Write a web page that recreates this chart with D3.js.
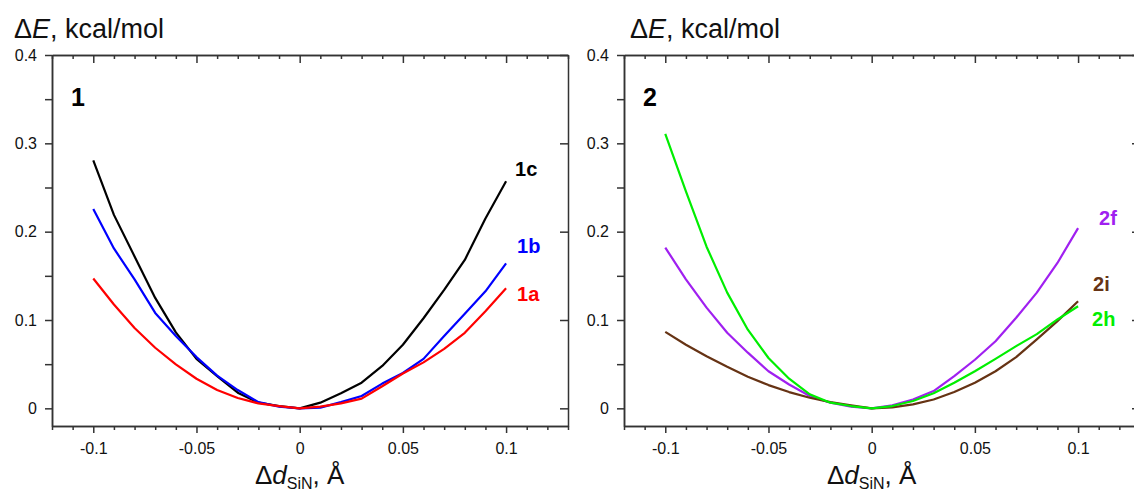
<!DOCTYPE html>
<html>
<head>
<meta charset="utf-8">
<script src="https://cdnjs.cloudflare.com/ajax/libs/d3/7.8.5/d3.min.js"></script>
<style>
  body { margin: 0; background: #fff; }
  svg { display: block; font-family: "Liberation Sans", Arial, sans-serif; }
  .axis path, .axis line { stroke: #333; stroke-width: 1.5; }
  .axis text { font-size: 16px; fill: #111; }
</style>
</head>
<body>
<div id="chart"></div>
<script>
(function () {

  // bond length change, same grid for every curve
  const dSiN = [-0.1, -0.09, -0.08, -0.07, -0.06, -0.05, -0.04, -0.03, -0.02, -0.01, 0,
    0.01, 0.02, 0.03, 0.04, 0.05, 0.06, 0.07, 0.08, 0.09, 0.1]

  // panel 1
  const e1a = [0.147, 0.1175, 0.091, 0.0686, 0.0497, 0.0335, 0.0207, 0.0117, 0.0056, 0.0026, 0,
    0.002, 0.0056, 0.011, 0.025, 0.0395, 0.052, 0.0674, 0.0855, 0.11, 0.136]
  const e1b = [0.2256, 0.181, 0.146, 0.108, 0.082, 0.058, 0.037, 0.0207, 0.007, 0.002, 0,
    0.0008, 0.007, 0.014, 0.028, 0.040, 0.056, 0.082, 0.107, 0.1325, 0.164]
  const e1c = [0.2806, 0.219, 0.172, 0.125, 0.086, 0.056, 0.0365, 0.0177, 0.0064, 0.0026, 0,
    0.0064, 0.017, 0.029, 0.048, 0.072, 0.102, 0.134, 0.168, 0.215, 0.257]

  // panel 2
  const e2f = [0.182, 0.146, 0.114, 0.0855, 0.063, 0.042, 0.027, 0.014, 0.0064, 0.002, 0,
    0.0034, 0.010, 0.0196, 0.0365, 0.055, 0.076, 0.1025, 0.131, 0.1646, 0.204]
  const e2h = [0.3107, 0.2456, 0.183, 0.131, 0.089, 0.057, 0.0335, 0.0158, 0.0064, 0.0026, 0,
    0.0026, 0.0083, 0.017, 0.029, 0.042, 0.056, 0.0704, 0.084, 0.1006, 0.1156]
  const e2i = [0.0866, 0.072, 0.059, 0.047, 0.0358, 0.0263, 0.0184, 0.012, 0.007, 0.0034, 0,
    0.001, 0.0045, 0.010, 0.0184, 0.029, 0.042, 0.058, 0.078, 0.0987, 0.1213]

  const xTicks = [-0.1, -0.05, 0, 0.05, 0.1]
  const xTickLabels = ['-0.1', '-0.05', '0', '0.05', '0.1']
  const yTicks = [0, 0.1, 0.2, 0.3, 0.4]
  const yTickLabels = ['0', '0.1', '0.2', '0.3', '0.4']

  const width = 1134
  const height = 495

  const svg = d3.select("#chart").append("svg")
      .attr("width", width)
      .attr("height", height)

  // panel boxes in pixels
  const top = 55, bottom = 426, plotW = 516

  const yScale = d3.scaleLinear()
    .domain([-0.02, 0.4])
    .range([bottom, top])

  const xMinor = d3.range(-12, 14).map(i => i / 100).filter(v => !xTicks.some(t => Math.abs(t - v) < 1e-9))
  const yMinor = [0.05, 0.15, 0.25, 0.35]

  function panel (left, name, titleX, series) {
    const xScale = d3.scaleLinear()
      .domain([-0.12, 0.13])
      .range([left, left + plotW])

    const g = svg.append("g")

    // bottom axis, outward ticks
    g.append("g").attr("class", "axis")
      .attr("transform", "translate(0," + bottom + ")")
      .call(d3.axisBottom(xScale).tickValues(xMinor).tickSize(4).tickSizeOuter(0).tickFormat(''))
    g.append("g").attr("class", "axis")
      .attr("transform", "translate(0," + bottom + ")")
      .call(d3.axisBottom(xScale).tickValues(xTicks).tickSize(7).tickSizeOuter(0)
        .tickPadding(10).tickFormat((d, i) => xTickLabels[i]))

    // top axis, inward ticks
    g.append("g").attr("class", "axis")
      .attr("transform", "translate(0," + top + ")")
      .call(d3.axisTop(xScale).tickValues(xMinor).tickSize(-4).tickSizeOuter(0).tickFormat(''))
    g.append("g").attr("class", "axis")
      .attr("transform", "translate(0," + top + ")")
      .call(d3.axisTop(xScale).tickValues(xTicks).tickSize(-8).tickSizeOuter(0).tickFormat(''))

    // left axis, outward ticks
    g.append("g").attr("class", "axis")
      .attr("transform", "translate(" + left + ",0)")
      .call(d3.axisLeft(yScale).tickValues(yMinor).tickSize(7).tickSizeOuter(0).tickFormat(''))
    g.append("g").attr("class", "axis")
      .attr("transform", "translate(" + left + ",0)")
      .call(d3.axisLeft(yScale).tickValues(yTicks).tickSize(7).tickSizeOuter(0)
        .tickPadding(8).tickFormat((d, i) => yTickLabels[i]))

    // right axis, inward major ticks only
    g.append("g").attr("class", "axis")
      .attr("transform", "translate(" + (left + plotW) + ",0)")
      .call(d3.axisRight(yScale).tickValues(yTicks).tickSize(-8).tickSizeOuter(0).tickFormat(''))

    const line = d3.line()
      .x((d, i) => xScale(dSiN[i]))
      .y(d => yScale(d))

    series.forEach(s => {
      g.append("path")
        .datum(s.values)
        .attr("d", line)
        .attr("fill", "none")
        .attr("stroke", s.color)
        .attr("stroke-width", 2.2)
        .attr("stroke-linejoin", "round")

      g.append("text")
        .attr("x", xScale(0.1) + s.dx)
        .attr("y", yScale(s.values[s.values.length - 1]) + s.dy)
        .attr("fill", s.color)
        .attr("font-size", 20)
        .attr("font-weight", "bold")
        .text(s.name)
    })

    // panel number
    g.append("text")
      .attr("x", left + 19)
      .attr("y", 106)
      .attr("font-size", 25)
      .attr("font-weight", "bold")
      .text(name)

    // y title
    const yt = g.append("text")
      .attr("x", titleX)
      .attr("y", 38)
      .attr("font-size", 27)
      .attr("fill", "#111")
    yt.append("tspan").text("\u0394")
    yt.append("tspan").attr("font-style", "italic").text("E")
    yt.append("tspan").text(", kcal/mol")

    // x title
    const xt = g.append("text")
      .attr("x", xScale(0))
      .attr("y", 484)
      .attr("font-size", 26)
      .attr("fill", "#111")
      .attr("text-anchor", "middle")
    xt.append("tspan").text("\u0394")
    xt.append("tspan").attr("font-style", "italic").text("d")
    xt.append("tspan").attr("font-size", 16).attr("dy", 5).text("SiN")
    xt.append("tspan").attr("dy", -5).text(", \u00c5")
  }

  panel(52, "1", 14, [
    { name: "1c", values: e1c, color: "#000000", dx: 9, dy: -5 },
    { name: "1b", values: e1b, color: "#0000ff", dx: 11, dy: -10 },
    { name: "1a", values: e1a, color: "#ff0000", dx: 11, dy: 13 }
  ])

  panel(624, "2", 630, [
    { name: "2f", values: e2f, color: "#a020f0", dx: 21, dy: -3 },
    { name: "2i", values: e2i, color: "#663314", dx: 15, dy: -10 },
    { name: "2h", values: e2h, color: "#00ee00", dx: 14, dy: 20 }
  ])

})();
</script>
</body>
</html>
